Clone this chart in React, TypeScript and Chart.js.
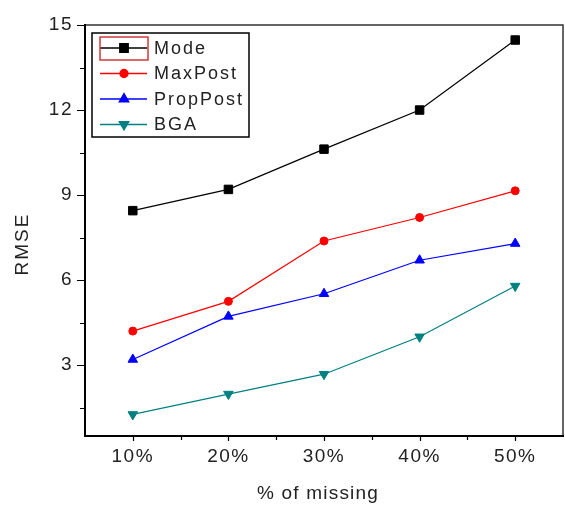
import React, { useEffect, useRef } from 'react';
import { Chart, registerables } from 'chart.js';
import { drawPoint } from 'chart.js/helpers';

Chart.register(...registerables);

const categories = ['10%', '20%', '30%', '40%', '50%'];
const modeValues = [8.45, 9.2, 10.62, 12.0, 14.47];
const maxPostValues = [4.2, 5.25, 7.38, 8.21, 9.15];
const propPostValues = [3.2, 4.72, 5.52, 6.7, 7.29];
const bgaValues = [1.26, 1.98, 2.68, 4.0, 5.79];
const yTicks = [3, 6, 9, 12, 15];
const yMinorTicks = [1.5, 4.5, 7.5, 10.5, 13.5];
const yMin = 0.5;
const yMax = 15;
const xTitle = '% of missing';
const yTitle = 'RMSE';

const FONT = '"Liberation Sans", Arial, sans-serif';
const TEXT = '#222';

const framePlugin = {
  id: 'frameAndLegend',
  beforeDraw(chart: any) {
    chart.ctx.letterSpacing = '1.5px';
  },
  afterDraw(chart: any) {
    const { ctx, chartArea: a, scales } = chart;
    const x = scales.x;
    const y = scales.y;
    ctx.save();
    // frame
    ctx.lineCap = 'square';
    ctx.strokeStyle = '#333';
    ctx.lineWidth = 1.5;
    ctx.beginPath();
    ctx.moveTo(a.left, a.top);
    ctx.lineTo(a.right, a.top);
    ctx.lineTo(a.right, a.bottom);
    ctx.stroke();
    ctx.strokeStyle = '#000';
    ctx.lineWidth = 2;
    ctx.beginPath();
    ctx.moveTo(a.left, a.top);
    ctx.lineTo(a.left, a.bottom);
    ctx.lineTo(a.right, a.bottom);
    ctx.stroke();
    // ticks
    ctx.lineWidth = 1.2;
    ctx.lineCap = 'butt';
    ctx.beginPath();
    yTicks.forEach((v) => {
      const py = Math.round(y.getPixelForValue(v)) + 0.5;
      ctx.moveTo(a.left - 8, py);
      ctx.lineTo(a.left, py);
    });
    yMinorTicks.forEach((v) => {
      const py = Math.round(y.getPixelForValue(v)) + 0.5;
      ctx.moveTo(a.left - 5, py);
      ctx.lineTo(a.left, py);
    });
    categories.forEach((_, i) => {
      const px = Math.round(x.getPixelForValue(i)) + 0.5;
      ctx.moveTo(px, a.bottom);
      ctx.lineTo(px, a.bottom + 5);
      if (i < categories.length - 1) {
        const pm = Math.round(x.getPixelForValue(i + 0.5)) + 0.5;
        ctx.moveTo(pm, a.bottom);
        ctx.lineTo(pm, a.bottom + 4);
      }
    });
    ctx.stroke();

    // axis titles
    ctx.fillStyle = TEXT;
    ctx.font = `19px ${FONT}`;
    ctx.letterSpacing = '1.2px';
    ctx.textAlign = 'center';
    ctx.textBaseline = 'alphabetic';
    ctx.fillText(xTitle, 318, 499);
    ctx.save();
    ctx.translate(28, 244);
    ctx.rotate(-Math.PI / 2);
    ctx.letterSpacing = '2px';
    ctx.fillText(yTitle, 0, 0);
    ctx.restore();

    // legend
    const bx = a.left + 7;
    const by = a.top + 8;
    ctx.strokeStyle = '#000';
    ctx.lineWidth = 1.5;
    ctx.strokeRect(bx, by, 157, 104);
    ctx.font = `18px ${FONT}`;
    ctx.letterSpacing = '2px';
    ctx.textAlign = 'left';
    ctx.textBaseline = 'middle';
    chart.data.datasets.forEach((ds: any, i: number) => {
      const ry = by + 15 + i * 25.5;
      ctx.strokeStyle = ds.borderColor;
      ctx.lineWidth = 1.3;
      ctx.beginPath();
      ctx.moveTo(bx + 8, ry);
      ctx.lineTo(bx + 55, ry);
      ctx.stroke();
      ctx.fillStyle = ds.pointBackgroundColor;
      ctx.strokeStyle = ds.pointBorderColor;
      drawPoint(ctx, {
        pointStyle: ds.pointStyle,
        rotation: ds.pointRotation || 0,
        radius: ds.pointRadius,
        borderWidth: 1,
      }, bx + 32, ry);
      ctx.fillStyle = TEXT;
      ctx.fillText(ds.label, bx + 62, ry + 1);
    });
    // selection rectangle around the first legend sample
    ctx.strokeStyle = '#d03a3a';
    ctx.lineWidth = 1.5;
    ctx.strokeRect(bx + 8, by + 4, 48, 23);
    ctx.restore();
  },
};

function makeDataset(label: string, data: number[], color: string, style: string, radius: number, rotation = 0) {
  return {
    label,
    data,
    borderColor: color,
    backgroundColor: color,
    pointBackgroundColor: color,
    pointBorderColor: color,
    pointStyle: style,
    pointRotation: rotation,
    pointRadius: radius,
    pointBorderWidth: 1,
    borderWidth: 1.2,
    tension: 0,
    clip: false,
  };
}

export default function App() {
  const ref = useRef<HTMLCanvasElement>(null);
  useEffect(() => {
    const canvas = ref.current;
    if (!canvas) return;
    const chart = new Chart(canvas, {
      type: 'line',
      data: {
        labels: categories,
        datasets: [
          makeDataset('Mode', modeValues, '#000000', 'rect', 6),
          makeDataset('MaxPost', maxPostValues, '#ff0000', 'circle', 4),
          makeDataset('PropPost', propPostValues, '#0000ff', 'triangle', 5.5),
          makeDataset('BGA', bgaValues, '#008080', 'triangle', 5.5, 180),
        ] as any,
      },
      options: {
        animation: false,
        responsive: false,
        devicePixelRatio: 1,
        layout: { autoPadding: false, padding: { top: 25, right: 2, left: 0, bottom: 0 } },
        plugins: { legend: { display: false }, tooltip: { enabled: false } },
        scales: {
          x: {
            type: 'category',
            offset: true,
            grid: { display: false, drawTicks: false },
            border: { display: false },
            ticks: { color: TEXT, font: { family: FONT, size: 19 }, padding: 9, maxRotation: 0 },
            afterFit: (s: any) => { s.height = 69; s.paddingLeft = 0; s.paddingRight = 0; },
          },
          y: {
            type: 'linear',
            min: yMin,
            max: yMax,
            grid: { display: false, drawTicks: false },
            border: { display: false },
            ticks: { color: TEXT, font: { family: FONT, size: 19 }, padding: 12 },
            afterBuildTicks: (s: any) => { s.ticks = yTicks.map((v) => ({ value: v })); },
            afterFit: (s: any) => { s.width = 85; s.paddingTop = 0; s.paddingBottom = 0; },
          },
        },
      } as any,
      plugins: [framePlugin],
    });
    return () => chart.destroy();
  }, []);
  return (
    <div style={{ position: 'absolute', left: 0, top: 0, width: 565, height: 505, background: '#fff' }}>
      <canvas ref={ref} width={565} height={505} />
    </div>
  );
}
